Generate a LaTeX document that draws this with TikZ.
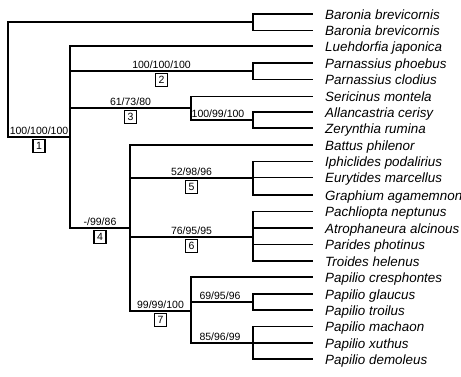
\documentclass[tikz,border=0pt]{standalone}
\usepackage{fontspec}
\setmainfont{Liberation Sans}
\begin{document}
\begin{tikzpicture}[x=1pt,y=-1pt,
  br/.style={line width=1.5pt, line cap=rect},
  leaf/.style={anchor=west, inner sep=0pt, text height=10pt, text depth=0pt, font=\fontsize{13.4}{14}\selectfont\itshape},
  supp/.style={anchor=base, inner sep=0pt, font=\fontsize{10.5}{12}\selectfont},
  cbox/.style={draw, fill=white, line width=1.7pt, anchor=north, minimum width=12pt, minimum height=13pt, inner sep=0pt, font=\fontsize{10.5}{11}\selectfont}]
\useasboundingbox (0,0) rectangle (461,376);
% leaves
\node[leaf] (t0)  at (325,14)    {Baronia brevicornis};
\node[leaf] (t1)  at (325,30.5)  {Baronia brevicornis};
\node[leaf] (t2)  at (325,46)    {Luehdorfia japonica};
\node[leaf] (t3)  at (325,63)    {Parnassius phoebus};
\node[leaf] (t4)  at (325,79.5)  {Parnassius clodius};
\node[leaf] (t5)  at (325,96.5)  {Sericinus montela};
\node[leaf] (t6)  at (325,112)   {Allancastria cerisy};
\node[leaf] (t7)  at (325,128)   {Zerynthia rumina};
\node[leaf] (t8)  at (325,145)   {Battus philenor};
\node[leaf] (t9)  at (325,161.5) {Iphiclides podalirius};
\node[leaf] (t10) at (325,177.5) {Eurytides marcellus};
\node[leaf] (t11) at (325,195)   {Graphium agamemnon};
\node[leaf] (t12) at (325,211.5) {Pachliopta neptunus};
\node[leaf] (t13) at (325,228)   {Atrophaneura alcinous};
\node[leaf] (t14) at (325,244.5) {Parides photinus};
\node[leaf] (t15) at (325,261)   {Troides helenus};
\node[leaf] (t16) at (325,277)   {Papilio cresphontes};
\node[leaf] (t17) at (325,294)   {Papilio glaucus};
\node[leaf] (t18) at (325,310)   {Papilio troilus};
\node[leaf] (t19) at (325,326.5) {Papilio machaon};
\node[leaf] (t20) at (325,343)   {Papilio xuthus};
\node[leaf] (t21) at (325,359)   {Papilio demoleus};
% internal nodes
\coordinate (root) at (8,79.5);
\coordinate (nB) at (253,22);
\coordinate (n1) at (70,137);
\coordinate (nP) at (253,71);
\coordinate (n3) at (191,108);
\coordinate (nAZ) at (253,120);
\coordinate (n4) at (130,228);
\coordinate (n5) at (253,178);
\coordinate (n6) at (253,237);
\coordinate (n7) at (191,311);
\coordinate (nG) at (253,302);
\coordinate (nM) at (253,343);
% branches
\draw[br] (root) |- (nB);
\draw[br] (root) |- (n1);
\draw[br] (nB) |- ([xshift=-13pt]t0.west);
\draw[br] (nB) |- ([xshift=-13pt]t1.west);
\draw[br] (n1) |- ([xshift=-13pt]t2.west);
\draw[br] (n1) |- (nP);
\draw[br] (n1) |- (n3);
\draw[br] (n1) |- (n4);
\draw[br] (nP) |- ([xshift=-13pt]t3.west);
\draw[br] (nP) |- ([xshift=-13pt]t4.west);
\draw[br] (n3) |- ([xshift=-13pt]t5.west);
\draw[br] (n3) |- (nAZ);
\draw[br] (nAZ) |- ([xshift=-13pt]t6.west);
\draw[br] (nAZ) |- ([xshift=-13pt]t7.west);
\draw[br] (n4) |- ([xshift=-13pt]t8.west);
\draw[br] (n4) |- (n5);
\draw[br] (n4) |- (n6);
\draw[br] (n4) |- (n7);
\draw[br] (n5) |- ([xshift=-13pt]t9.west);
\draw[br] (n5) |- ([xshift=-13pt]t10.west);
\draw[br] (n5) |- ([xshift=-13pt]t11.west);
\draw[br] (n6) |- ([xshift=-13pt]t12.west);
\draw[br] (n6) |- ([xshift=-13pt]t13.west);
\draw[br] (n6) |- ([xshift=-13pt]t14.west);
\draw[br] (n6) |- ([xshift=-13pt]t15.west);
\draw[br] (n7) |- ([xshift=-13pt]t16.west);
\draw[br] (n7) |- (nG);
\draw[br] (n7) |- (nM);
\draw[br] (nG) |- ([xshift=-13pt]t17.west);
\draw[br] (nG) |- ([xshift=-13pt]t18.west);
\draw[br] (nM) |- ([xshift=-13pt]t19.west);
\draw[br] (nM) |- ([xshift=-13pt]t20.west);
\draw[br] (nM) |- ([xshift=-13pt]t21.west);
% support labels and clade numbers
\node[supp] (s1) at (39,134) {100/100/100};
\node[cbox] (b1) at (39,138.5) {1};
\node[supp] (s2) at (161.5,68) {100/100/100};
\node[cbox] (b2) at (161.5,72.5) {2};
\node[supp] (s3) at (130.5,105) {61/73/80};
\node[cbox] (b3) at (130.5,109.5) {3};
\node[supp] (sAZ) at (218,117) {100/99/100};
\node[supp] (s4) at (100,225) {-/99/86};
\node[cbox] (b4) at (100,229.5) {4};
\node[supp] (s5) at (191.5,175) {52/98/96};
\node[cbox] (b5) at (191.5,179.5) {5};
\node[supp] (s6) at (191.5,234) {76/95/95};
\node[cbox] (b6) at (191.5,238.5) {6};
\node[supp] (s7) at (160.5,308) {99/99/100};
\node[cbox] (b7) at (160.5,312.5) {7};
\node[supp] (sG) at (220,299) {69/95/96};
\node[supp] (sM) at (220,340) {85/96/99};
\end{tikzpicture}
\end{document}
